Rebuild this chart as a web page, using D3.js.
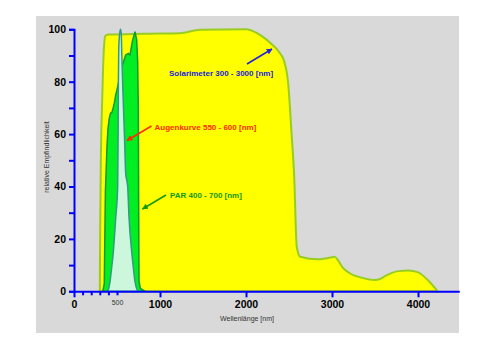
<!DOCTYPE html>
<html>
<head>
<meta charset="utf-8">
<script src="https://cdn.jsdelivr.net/npm/d3@7"></script>
<style>
  body { margin: 0; background: #fff; }
  svg { display: block; font-family: Arial, "Liberation Sans", sans-serif; }
</style>
</head>
<body>
<div id="chart"></div>
<script>
// Solarimeter response [nm, relative]
const solarNm  = [300, 305, 312, 325, 338, 350, 365, 400, 800, 1000, 1230, 1465, 2000, 2066, 2180, 2290, 2380, 2445, 2490, 2530, 2560, 2590, 2630, 2840, 3000, 3027, 3131, 3220, 3345, 3492, 3558, 3616, 3771, 3887, 3997, 4101, 4229];
const solarVal = [0, 25, 50, 70, 85, 94, 97.5, 98, 98.3, 98.4, 98.5, 99.8, 100, 99.5, 97.5, 94.6, 91.5, 87.6, 79.5, 60, 44, 17, 13.2, 12.2, 13, 13.2, 8.8, 6.6, 5.2, 4.3, 4.7, 5.8, 7.7, 7.9, 7.3, 4.7, 0];

// PAR sensor
const parNm  = [335, 352, 358, 365, 378, 383, 395, 410, 425, 440, 455, 470, 485, 497, 520, 560, 601, 631, 651, 678, 709, 729, 740, 748, 752, 756, 770, 800, 830];
const parVal = [0, 3, 20, 38, 50, 55, 62, 66, 68, 68.2, 70, 72, 75, 76.5, 80, 86, 90.2, 90.8, 90.2, 95.3, 99.1, 96, 88, 70, 30, 4, 1.2, 0.5, 0];

// Augenkurve (eye sensitivity)
const eyeNm  = [395, 419, 438, 457, 485, 508, 513, 516, 520, 530, 541, 550, 556, 570, 588, 601, 624, 640, 671, 690, 709, 740];
const eyeVal = [0, 3.7, 9, 15, 28, 40, 60, 80, 92, 98, 100, 98, 90, 75, 58, 45, 40, 28, 15, 9, 3.7, 0];

const xMajor = [0, 1000, 2000, 3000, 4000];
const xMinor = [100, 200, 300, 400, 500];
const yTicks = [0, 10, 20, 30, 40, 50, 60, 70, 80, 90, 100];

const width = 495, height = 350;
const svg = d3.select('#chart').append('svg')
    .attr('width', width)
    .attr('height', height);

// gray plot panel
svg.append('rect')
    .attr('x', 36).attr('y', 16)
    .attr('width', 423).attr('height', 317)
    .attr('fill', '#d9d9d9');

const x = d3.scaleLinear().domain([0, 4480]).range([74, 459.3]);
const y = d3.scaleLinear().domain([0, 100]).range([291.3, 29.3]);

const toPts = (nm, v) => nm.map((d, i) => [d, v[i]]);
const area = d3.area()
    .x(d => x(d[0]))
    .y0(y(0))
    .y1(d => y(d[1]));

// Solarimeter
svg.append('path')
    .datum(toPts(solarNm, solarVal))
    .attr('d', area.curve(d3.curveMonotoneX))
    .attr('fill', '#ffff00')
    .attr('stroke', '#99cc22')
    .attr('stroke-width', 2);

// PAR
svg.append('path')
    .datum(toPts(parNm, parVal))
    .attr('d', area.curve(d3.curveLinear))
    .attr('fill', '#00ee22')
    .attr('stroke', '#119933')
    .attr('stroke-width', 1.5);

// Augenkurve
svg.append('path')
    .datum(toPts(eyeNm, eyeVal))
    .attr('d', area.curve(d3.curveMonotoneX))
    .attr('fill', '#ccf7dd')
    .attr('stroke', '#339988')
    .attr('stroke-width', 1.5);

// Y axis
const yAxis = svg.append('g')
    .attr('transform', `translate(${x(0)},0)`)
    .call(d3.axisLeft(y).tickValues(yTicks).tickSize(5).tickPadding(3)
        .tickFormat(d => d % 20 === 0 ? d : ''));
yAxis.select('.domain').attr('stroke', '#0000ff').attr('stroke-width', 2);
yAxis.selectAll('.tick line').attr('stroke', '#0000ff').attr('stroke-width', 2);
yAxis.selectAll('.tick text')
    .attr('fill', '#000')
    .style('font-size', '10.5px')
    .style('font-weight', 'bold');

// X axis
const xAxisMinor = svg.append('g')
    .attr('transform', `translate(0,${y(0)})`)
    .call(d3.axisBottom(x).tickValues(xMinor).tickSize(4).tickPadding(5)
        .tickFormat(d => d === 500 ? '500' : ''));
xAxisMinor.select('.domain').remove();
xAxisMinor.selectAll('.tick line').attr('stroke', '#0000ff').attr('stroke-width', 2);
xAxisMinor.selectAll('.tick text').attr('fill', '#333').style('font-size', '7px');

const xAxis = svg.append('g')
    .attr('transform', `translate(0,${y(0)})`)
    .call(d3.axisBottom(x).tickValues(xMajor).tickSizeInner(6).tickSizeOuter(0).tickPadding(3)
        .tickFormat(d3.format('d')));
xAxis.select('.domain').attr('stroke', '#0000ff').attr('stroke-width', 2);
xAxis.selectAll('.tick line').attr('stroke', '#0000ff').attr('stroke-width', 2);
xAxis.selectAll('.tick text')
    .attr('fill', '#000')
    .style('font-size', '10.5px')
    .style('font-weight', 'bold');

// axis titles
svg.append('text')
    .attr('x', 247).attr('y', 321)
    .attr('text-anchor', 'middle')
    .style('font-size', '7px')
    .attr('fill', '#333')
    .text('Wellenlänge [nm]');
svg.append('text')
    .attr('transform', 'translate(49,157) rotate(-90)')
    .attr('text-anchor', 'middle')
    .style('font-size', '7px')
    .attr('fill', '#333')
    .text('relative Empfindlichkeit');

// arrowheads
const defs = svg.append('defs');
const arrowColors = { blue: '#2222dd', red: '#ff2a00', green: '#119911' };
Object.entries(arrowColors).forEach(([k, c]) => {
    defs.append('marker')
        .attr('id', 'arr-' + k)
        .attr('viewBox', '0 0 10 10')
        .attr('refX', 9).attr('refY', 5)
        .attr('markerWidth', 4).attr('markerHeight', 4)
        .attr('orient', 'auto')
      .append('path')
        .attr('d', 'M0,0 L10,5 L0,10 Z')
        .attr('fill', c);
});

const notes = [
    { key: 'blue', text: 'Solarimeter 300 - 3000 [nm]', tx: 169, ty: 76, from: [247, 64], to: [272, 49] },
    { key: 'red', text: 'Augenkurve 550 - 600 [nm]', tx: 154.5, ty: 130, from: [151.5, 126], to: [127, 140.5] },
    { key: 'green', text: 'PAR 400 - 700 [nm]', tx: 170, ty: 198, from: [166, 195], to: [142.5, 209] }
];
notes.forEach(n => {
    svg.append('line')
        .attr('x1', n.from[0]).attr('y1', n.from[1])
        .attr('x2', n.to[0]).attr('y2', n.to[1])
        .attr('stroke', arrowColors[n.key])
        .attr('stroke-width', 1.5)
        .attr('marker-end', `url(#arr-${n.key})`);
    svg.append('text')
        .attr('x', n.tx).attr('y', n.ty)
        .attr('fill', arrowColors[n.key])
        .style('font-size', '8px')
        .style('font-weight', 'bold')
        .text(n.text);
});
</script>
</body>
</html>
